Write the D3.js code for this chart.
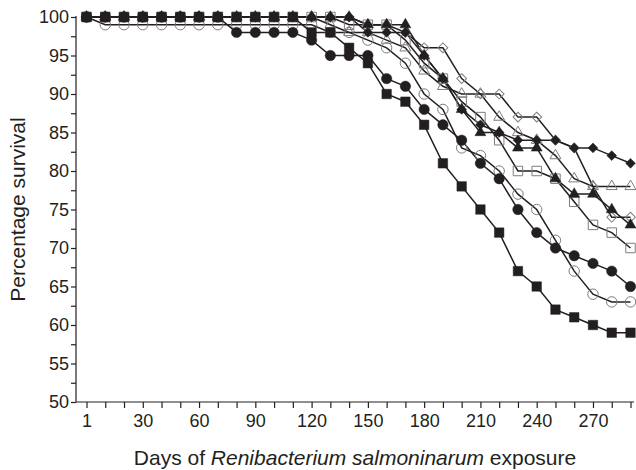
<!DOCTYPE html>
<html><head><meta charset="utf-8">
<script src="https://cdn.jsdelivr.net/npm/d3@7"></script>
<style>body{margin:0;background:#fff} text{font-family:"Liberation Sans",Arial,sans-serif}</style>
</head><body>
<svg id="chart" width="636" height="470"></svg>
<script>
const days = [1,10,20,30,40,50,60,70,80,90,100,110,120,130,140,150,160,170,180,190,200,210,220,230,240,250,260,270,280,290];
const xTickLabels = [1,30,60,90,120,150,180,210,240,270];
const yTicks = [50,55,60,65,70,75,80,85,90,95,100];
const yMinorTicks = [52.5,57.5,62.5,67.5,72.5,77.5,82.5,87.5,92.5,97.5];

const filledSquare   = [100,100,100,100,100,100,100,100,100,100,100,100,98,98,96,94,90,89,86,81,78,75,72,67,65,62,61,60,59,59];
const filledCircle   = [100,100,100,100,100,100,100,100,98,98,98,98,97,95,95,95,92,91,88,86,84,81,79,75,72,70,69,68,67,65];
const openCircle     = [100,99,99,99,99,99,99,99,99,99,99,99,99,98,98,97,96,94,90,88,83,82,80,77,75,71,67,64,63,63];
const openSquare     = [100,100,100,100,100,100,100,100,100,100,100,100,100,100,99,99,99,97,94,92,89,87,84,80,80,79,76,73,72,70];
const filledTriangle = [100,100,100,100,100,100,100,100,100,100,100,100,100,100,100,99,99,99,95,92,88,85,85,83,83,79,77,77,75,73];
const openTriangle   = [100,100,100,100,100,100,100,100,100,100,100,100,100,99,98,98,97,96,93,91,90,90,87,85,84,82,79,78,78,78];
const openDiamond    = [100,100,100,100,100,100,100,100,100,100,100,100,100,100,100,99,99,98,96,96,92,90,90,87,87,84,83,78,74,74];
const filledDiamond  = [100,100,100,100,100,100,100,100,100,100,100,100,100,100,100,98,98,98,95,92,88,86,85,84,84,84,83,83,82,81];

const series = [
  {values: openCircle, shape: "circle", filled: false},
  {values: openSquare, shape: "square", filled: false},
  {values: openTriangle, shape: "triangle", filled: false},
  {values: openDiamond, shape: "diamond", filled: false},
  {values: filledCircle, shape: "circle", filled: true},
  {values: filledSquare, shape: "square", filled: true},
  {values: filledTriangle, shape: "triangle", filled: true},
  {values: filledDiamond, shape: "diamond", filled: true}
];

const ink = "#231f20", grey = "#7d7d7d";
const svg = d3.select("#chart");
const x = d3.scalePoint().domain(days).range([86.5, 630.5]);
const y = d3.scaleLinear().domain([50, 100]).range([402, 17]);
const axisX0 = 76, axisX1 = 634;

// Y axis
const gy = svg.append("g").attr("transform", `translate(${axisX0},0)`);
gy.call(d3.axisLeft(y).tickValues(yTicks).tickSize(5).tickPadding(2));
gy.append("g").call(d3.axisLeft(y).tickValues(yMinorTicks).tickSize(5).tickFormat(""));
gy.selectAll(".domain").remove();
gy.append("line").attr("x1",0).attr("x2",0).attr("y1",y(50)).attr("y2",y(100)-1).attr("stroke",ink).attr("stroke-width",1.2);
gy.selectAll(".tick line").attr("stroke", ink).attr("stroke-width",1.2);
gy.selectAll(".tick text").attr("font-size", 18).attr("fill", ink);

// X axis
const gx = svg.append("g").attr("transform", `translate(0,${y(50)})`);
gx.call(d3.axisBottom(x).tickValues(days).tickSize(6).tickPadding(6)
  .tickFormat(d => xTickLabels.includes(d) ? d : ""));
gx.select(".domain").remove();
gx.append("line").attr("x1",axisX0).attr("x2",axisX1).attr("y1",0).attr("y2",0).attr("stroke",ink).attr("stroke-width",1.2);
gx.selectAll(".tick line").attr("stroke", ink).attr("stroke-width",1.2);
gx.selectAll(".tick text").attr("font-size", 18).attr("fill", ink);

// Titles
svg.append("text").attr("transform", `translate(25,${(y(50)+y(100))/2}) rotate(-90)`)
  .attr("text-anchor","middle").attr("font-size",21).attr("fill",ink).text("Percentage survival");
const t = svg.append("text").attr("x", 355).attr("y", 465).attr("text-anchor","middle").attr("font-size",21).attr("fill",ink);
t.append("tspan").text("Days of ");
t.append("tspan").attr("font-style","italic").text("Renibacterium salmoninarum");
t.append("tspan").text(" exposure");

// Lines
const line = d3.line().x((d,i) => x(days[i])).y(d => y(d));
series.forEach(s => {
  svg.append("path").datum(s.values).attr("d", line).attr("fill","none")
    .attr("stroke", ink).attr("stroke-width", 1.5);
});

// Markers
function symbolFor(shape) {
  if (shape === "circle") return d3.symbol(d3.symbolCircle, 85);
  if (shape === "square") return d3.symbol(d3.symbolSquare, 90);
  if (shape === "triangle") return d3.symbol(d3.symbolTriangle, 52);
  return d3.symbol(d3.symbolSquare, 48);
}
series.forEach(s => {
  const sym = symbolFor(s.shape);
  svg.append("g").selectAll("path").data(s.values).join("path")
    .attr("transform", (d,i) => `translate(${x(days[i])},${y(d)})` + (s.shape === "diamond" ? " rotate(45)" : ""))
    .attr("d", sym())
    .attr("fill", s.filled ? ink : "none")
    .attr("stroke", s.filled ? ink : grey)
    .attr("stroke-width", s.filled ? 0.5 : 1);
});
</script>
</body></html>
